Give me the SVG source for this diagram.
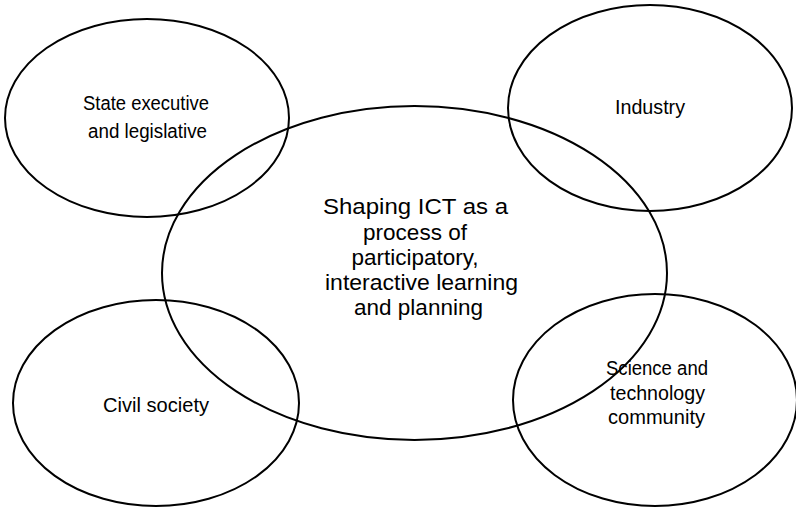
<svg xmlns="http://www.w3.org/2000/svg" width="796" height="508" viewBox="0 0 796 508">
  <style>
    .ring { fill: none; stroke: #000; stroke-width: 2; }
    .lbl { font-family: "Liberation Sans", Arial, sans-serif; font-size: 20px; fill: #000; text-anchor: middle; }
    .core { font-size: 22.5px; }
  </style>
  <rect width="796" height="508" fill="#fff"/>

  <g id="state">
    <ellipse class="ring" cx="147" cy="118" rx="142" ry="99"/>
    <text class="lbl" x="146" y="110" textLength="126" lengthAdjust="spacingAndGlyphs">State executive</text>
    <text class="lbl" x="147.5" y="137.5" textLength="119" lengthAdjust="spacingAndGlyphs">and legislative</text>
  </g>

  <g id="industry">
    <ellipse class="ring" cx="650" cy="108" rx="142" ry="103"/>
    <text class="lbl" x="650" y="114" textLength="70" lengthAdjust="spacingAndGlyphs">Industry</text>
  </g>

  <g id="civil">
    <ellipse class="ring" cx="156" cy="403" rx="143" ry="103"/>
    <text class="lbl" x="156" y="412" textLength="106" lengthAdjust="spacingAndGlyphs">Civil society</text>
  </g>

  <g id="science">
    <ellipse class="ring" cx="655" cy="400" rx="142" ry="106"/>
    <text class="lbl" x="657" y="375" textLength="102" lengthAdjust="spacingAndGlyphs">Science and</text>
    <text class="lbl" x="657.5" y="400" textLength="95" lengthAdjust="spacingAndGlyphs">technology</text>
    <text class="lbl" x="656.5" y="424" textLength="97" lengthAdjust="spacingAndGlyphs">community</text>
  </g>

  <g id="ict">
    <ellipse class="ring" cx="414.5" cy="273" rx="252.5" ry="167"/>
    <text class="lbl core" x="415.5" y="214" textLength="185" lengthAdjust="spacingAndGlyphs">Shaping ICT as a</text>
    <text class="lbl core" x="415" y="240">process of</text>
    <text class="lbl core" x="415" y="265">participatory,</text>
    <text class="lbl core" x="421.5" y="290" textLength="193" lengthAdjust="spacingAndGlyphs">interactive learning</text>
    <text class="lbl core" x="418.5" y="315">and planning</text>
  </g>

  <g id="connectors"></g>
</svg>
